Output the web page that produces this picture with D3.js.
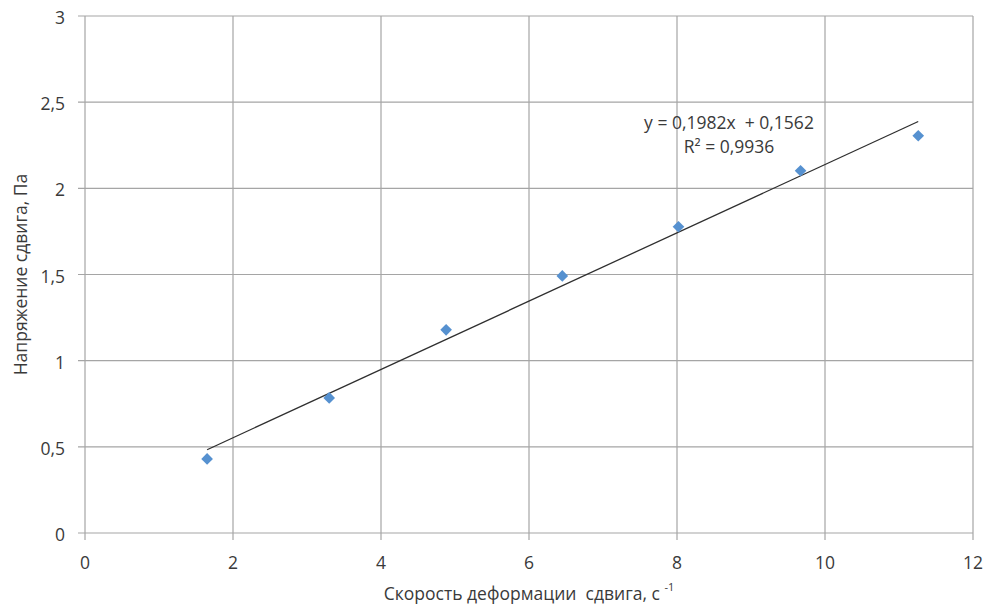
<!DOCTYPE html>
<html>
<head>
<meta charset="utf-8">
<script src="https://cdn.jsdelivr.net/npm/d3@7"></script>
<style>
  html, body { margin: 0; padding: 0; background: #fff; }
  svg { display: block; }
  text { font-family: "Open Sans", "Noto Sans", sans-serif; fill: #3a3a3a; }
</style>
</head>
<body>
<div id="chart"></div>
<script>
// Shear rate (1/s) and shear stress (Pa)
const shearRate = [1.65, 3.30, 4.88, 6.45, 8.02, 9.67, 11.26];
const shearStress = [0.43, 0.784, 1.179, 1.492, 1.777, 2.102, 2.305];

// Linear trend line parameters
const slope = 0.1982;
const intercept = 0.1562;
const rSquared = "0,9936";

const xTicks = [0, 2, 4, 6, 8, 10, 12];
const yTicks = [0, 0.5, 1, 1.5, 2, 2.5, 3];

const W = 986, H = 607;
const margin = { left: 85, right: 13, top: 16, bottom: 74 };
const fontSize = 17.5;

const svg = d3.select("#chart").append("svg")
  .attr("width", W).attr("height", H);

const x = d3.scaleLinear().domain([0, 12]).range([margin.left, W - margin.right]);
const y = d3.scaleLinear().domain([0, 3]).range([H - margin.bottom, margin.top]);

const fmt = d => String(d).replace(".", ",");
const gridColor = "#a5a5a5";

// Vertical grid lines
svg.append("g").selectAll("line").data(xTicks).join("line")
  .attr("x1", d => x(d)).attr("x2", d => x(d))
  .attr("y1", y(3)).attr("y2", y(0) + 7)
  .attr("stroke", gridColor).attr("stroke-width", 1.2);

// Horizontal grid lines
svg.append("g").selectAll("line").data(yTicks).join("line")
  .attr("x1", x(0) - 7).attr("x2", x(12))
  .attr("y1", d => y(d)).attr("y2", d => y(d))
  .attr("stroke", gridColor).attr("stroke-width", 1.2);

// Y tick labels
svg.append("g").selectAll("text").data(yTicks).join("text")
  .attr("x", x(0) - 20).attr("y", d => y(d) + 1)
  .attr("text-anchor", "end").attr("dominant-baseline", "central")
  .attr("font-size", fontSize).text(fmt);

// X tick labels
svg.append("g").selectAll("text").data(xTicks).join("text")
  .attr("x", d => x(d)).attr("y", y(0) + 29)
  .attr("text-anchor", "middle").attr("dominant-baseline", "central")
  .attr("font-size", fontSize).text(fmt);

// Trend line over the data range
const [xmin, xmax] = d3.extent(shearRate);
svg.append("line")
  .attr("x1", x(xmin)).attr("y1", y(slope * xmin + intercept))
  .attr("x2", x(xmax)).attr("y2", y(slope * xmax + intercept))
  .attr("stroke", "#2f2f2f").attr("stroke-width", 1.3);

// Data points as diamonds
const diamond = d3.symbol().type(d3.symbolSquare).size(68);
svg.append("g").selectAll("path").data(shearRate).join("path")
  .attr("d", diamond)
  .attr("transform", (d, i) => `translate(${x(d)},${y(shearStress[i])}) rotate(45)`)
  .attr("fill", "#5691d0");

// Trend line equation
svg.append("text")
  .attr("x", 729).attr("y", 122)
  .attr("text-anchor", "middle").attr("dominant-baseline", "central")
  .attr("font-size", fontSize)
  .attr("xml:space", "preserve")
  .text(`y = ${fmt(slope)}x  + ${fmt(intercept)}`);

svg.append("text")
  .attr("x", 729).attr("y", 146)
  .attr("text-anchor", "middle").attr("dominant-baseline", "central")
  .attr("font-size", fontSize)
  .text(`R² = ${rSquared}`);

// Axis titles
const xt = svg.append("text")
  .attr("x", (x(0) + x(12)) / 2).attr("y", 593)
  .attr("text-anchor", "middle").attr("dominant-baseline", "central")
  .attr("font-size", fontSize).attr("xml:space", "preserve");
xt.append("tspan").text("Скорость деформации  сдвига, с ");
xt.append("tspan").attr("font-size", 11).attr("dy", -7).text("-1");

svg.append("text")
  .attr("transform", `translate(20,${(y(0) + y(3)) / 2}) rotate(-90)`)
  .attr("text-anchor", "middle").attr("dominant-baseline", "central")
  .attr("font-size", fontSize)
  .text("Напряжение сдвига, Па");
</script>
</body>
</html>
